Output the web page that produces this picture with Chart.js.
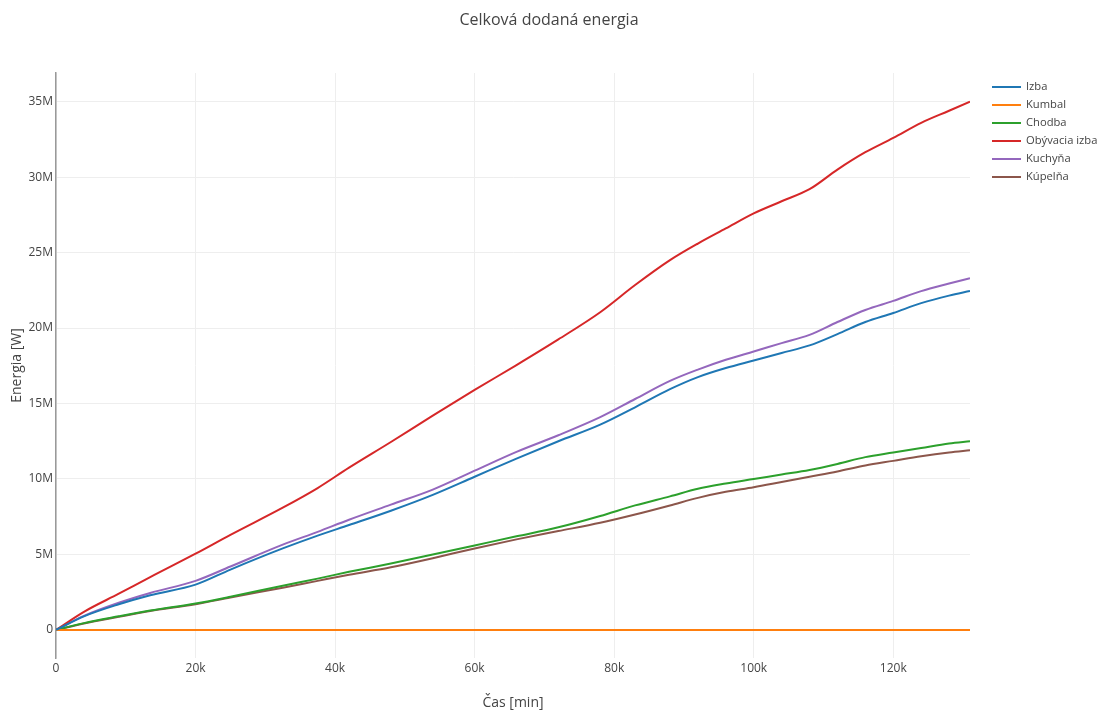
<!DOCTYPE html>
<html>
<head>
<meta charset="utf-8">
<script src="https://cdn.jsdelivr.net/npm/chart.js@4/dist/chart.umd.min.js"></script>
<style>
  html, body { margin: 0; padding: 0; background: #fff; }
  #wrap { width: 1099px; height: 711px; position: relative; }
</style>
</head>
<body>
<div id="wrap"><canvas id="c" width="1099" height="711"></canvas></div>
<script>
// Time in minutes
const times = [0, 4000, 9000, 13500, 20000, 25000, 32500, 37500, 42000, 48000, 54000, 60000, 66000, 72000, 78000, 83000, 88000, 92000, 96000, 100000, 104000, 108000, 112000, 116000, 120000, 124000, 128000, 131000];

// Energy values in millions of W
const izba       = [0, 0.9, 1.7, 2.3, 3.0, 4.0, 5.4, 6.25, 6.95, 7.9, 8.95, 10.15, 11.35, 12.5, 13.6, 14.75, 15.95, 16.75, 17.35, 17.85, 18.35, 18.85, 19.6, 20.4, 21.0, 21.65, 22.15, 22.45];
const kumbal     = [0, 0, 0, 0, 0, 0, 0, 0, 0, 0, 0, 0, 0, 0, 0, 0, 0, 0, 0, 0, 0, 0, 0, 0, 0, 0, 0, 0];
const chodba     = [0, 0.45, 0.9, 1.28, 1.75, 2.2, 2.93, 3.4, 3.85, 4.4, 5.0, 5.6, 6.2, 6.8, 7.55, 8.25, 8.85, 9.35, 9.7, 10.0, 10.3, 10.6, 11.0, 11.45, 11.75, 12.05, 12.35, 12.5];
const obyvacia   = [0, 1.2, 2.4, 3.5, 5.05, 6.3, 8.1, 9.4, 10.75, 12.45, 14.2, 15.9, 17.55, 19.25, 21.05, 22.85, 24.5, 25.6, 26.6, 27.6, 28.4, 29.2, 30.5, 31.65, 32.6, 33.6, 34.4, 35.0];
const kuchyna    = [0, 0.93, 1.8, 2.45, 3.25, 4.2, 5.65, 6.5, 7.3, 8.3, 9.3, 10.55, 11.8, 12.9, 14.1, 15.3, 16.5, 17.25, 17.9, 18.45, 19.0, 19.55, 20.4, 21.2, 21.8, 22.45, 22.95, 23.3];
const kupelna    = [0, 0.43, 0.87, 1.25, 1.7, 2.15, 2.8, 3.25, 3.65, 4.15, 4.75, 5.4, 6.0, 6.55, 7.1, 7.65, 8.25, 8.75, 9.15, 9.45, 9.8, 10.15, 10.5, 10.9, 11.2, 11.5, 11.75, 11.9];

const seriesNames = ["Izba", "Kumbal", "Chodba", "Obývacia izba", "Kuchyňa", "Kúpelňa"];
const seriesData = [izba, kumbal, chodba, obyvacia, kuchyna, kupelna];
const seriesColors = ["#1f77b4", "#ff7f0e", "#2ca02c", "#d62728", "#9467bd", "#8c564b"];

const xTicks = [0, 20000, 40000, 60000, 80000, 100000, 120000];
const yTicks = [0, 5e6, 10e6, 15e6, 20e6, 25e6, 30e6, 35e6];

const titleText = "Celková dodaná energia";
const xTitle = "Čas [min]";
const yTitle = "Energia [W]";

const FONT = "'Open Sans', sans-serif";
const TEXT = "#444";

const datasets = seriesNames.map((name, i) => ({
  label: name,
  data: times.map((t, j) => ({ x: t, y: seriesData[i][j] * 1e6 })),
  borderColor: seriesColors[i],
  backgroundColor: seriesColors[i],
  borderWidth: 2,
  pointRadius: 0,
  cubicInterpolationMode: 'monotone',
  fill: false
}));

function fmt(v) {
  if (v === 0) return "0";
  if (Math.abs(v) >= 1e6) return (v / 1e6) + "M";
  if (Math.abs(v) >= 1e3) return (v / 1e3) + "k";
  return String(v);
}

const overlay = {
  id: 'overlay',
  afterDraw(chart) {
    const ctx = chart.ctx;
    ctx.save();
    ctx.fillStyle = TEXT;
    ctx.font = "16px " + FONT;
    ctx.textAlign = "center";
    ctx.textBaseline = "middle";
    ctx.fillText(titleText, 549, 20);
    ctx.font = "11.2px " + FONT;
    ctx.textAlign = "left";
    seriesNames.forEach((name, i) => {
      const y = 87 + i * 18;
      ctx.strokeStyle = seriesColors[i];
      ctx.lineWidth = 2;
      ctx.beginPath();
      ctx.moveTo(992, y);
      ctx.lineTo(1021, y);
      ctx.stroke();
      ctx.fillStyle = TEXT;
      ctx.fillText(name, 1026, y);
    });
    ctx.restore();
  }
};

new Chart(document.getElementById('c'), {
  type: 'line',
  data: { datasets },
  options: {
    responsive: false,
    animation: false,
    layout: { padding: { left: 0, top: 73, right: 129, bottom: 0 } },
    plugins: {
      legend: { display: false },
      title: { display: false },
      tooltip: { enabled: false }
    },
    scales: {
      x: {
        type: 'linear',
        min: 0,
        max: 131000,
        afterFit(s) { s.height = 53; },
        afterBuildTicks(s) { s.ticks = xTicks.map(v => ({ value: v })); },
        ticks: { callback: fmt, color: TEXT, font: { family: FONT, size: 12 }, padding: 3, maxRotation: 0 },
        grid: { color: "#eeeeee", lineWidth: 1, drawTicks: false },
        border: { display: false },
        title: { display: true, text: xTitle, color: TEXT, font: { family: FONT, size: 14 }, padding: { top: 0, bottom: 0 } }
      },
      y: {
        type: 'linear',
        min: -1.86e6,
        max: 36.9e6,
        afterFit(s) { s.width = 56; },
        afterBuildTicks(s) { s.ticks = yTicks.map(v => ({ value: v })); },
        ticks: { callback: fmt, color: TEXT, font: { family: FONT, size: 12 }, padding: 3 },
        grid: { color: "#eeeeee", lineWidth: 1, drawTicks: false },
        border: { display: true, color: "#999999", width: 1.5 },
        title: { display: true, text: yTitle, color: TEXT, font: { family: FONT, size: 14 }, padding: { top: 9, bottom: 0 } }
      }
    }
  },
  plugins: [overlay]
});
</script>
</body>
</html>
